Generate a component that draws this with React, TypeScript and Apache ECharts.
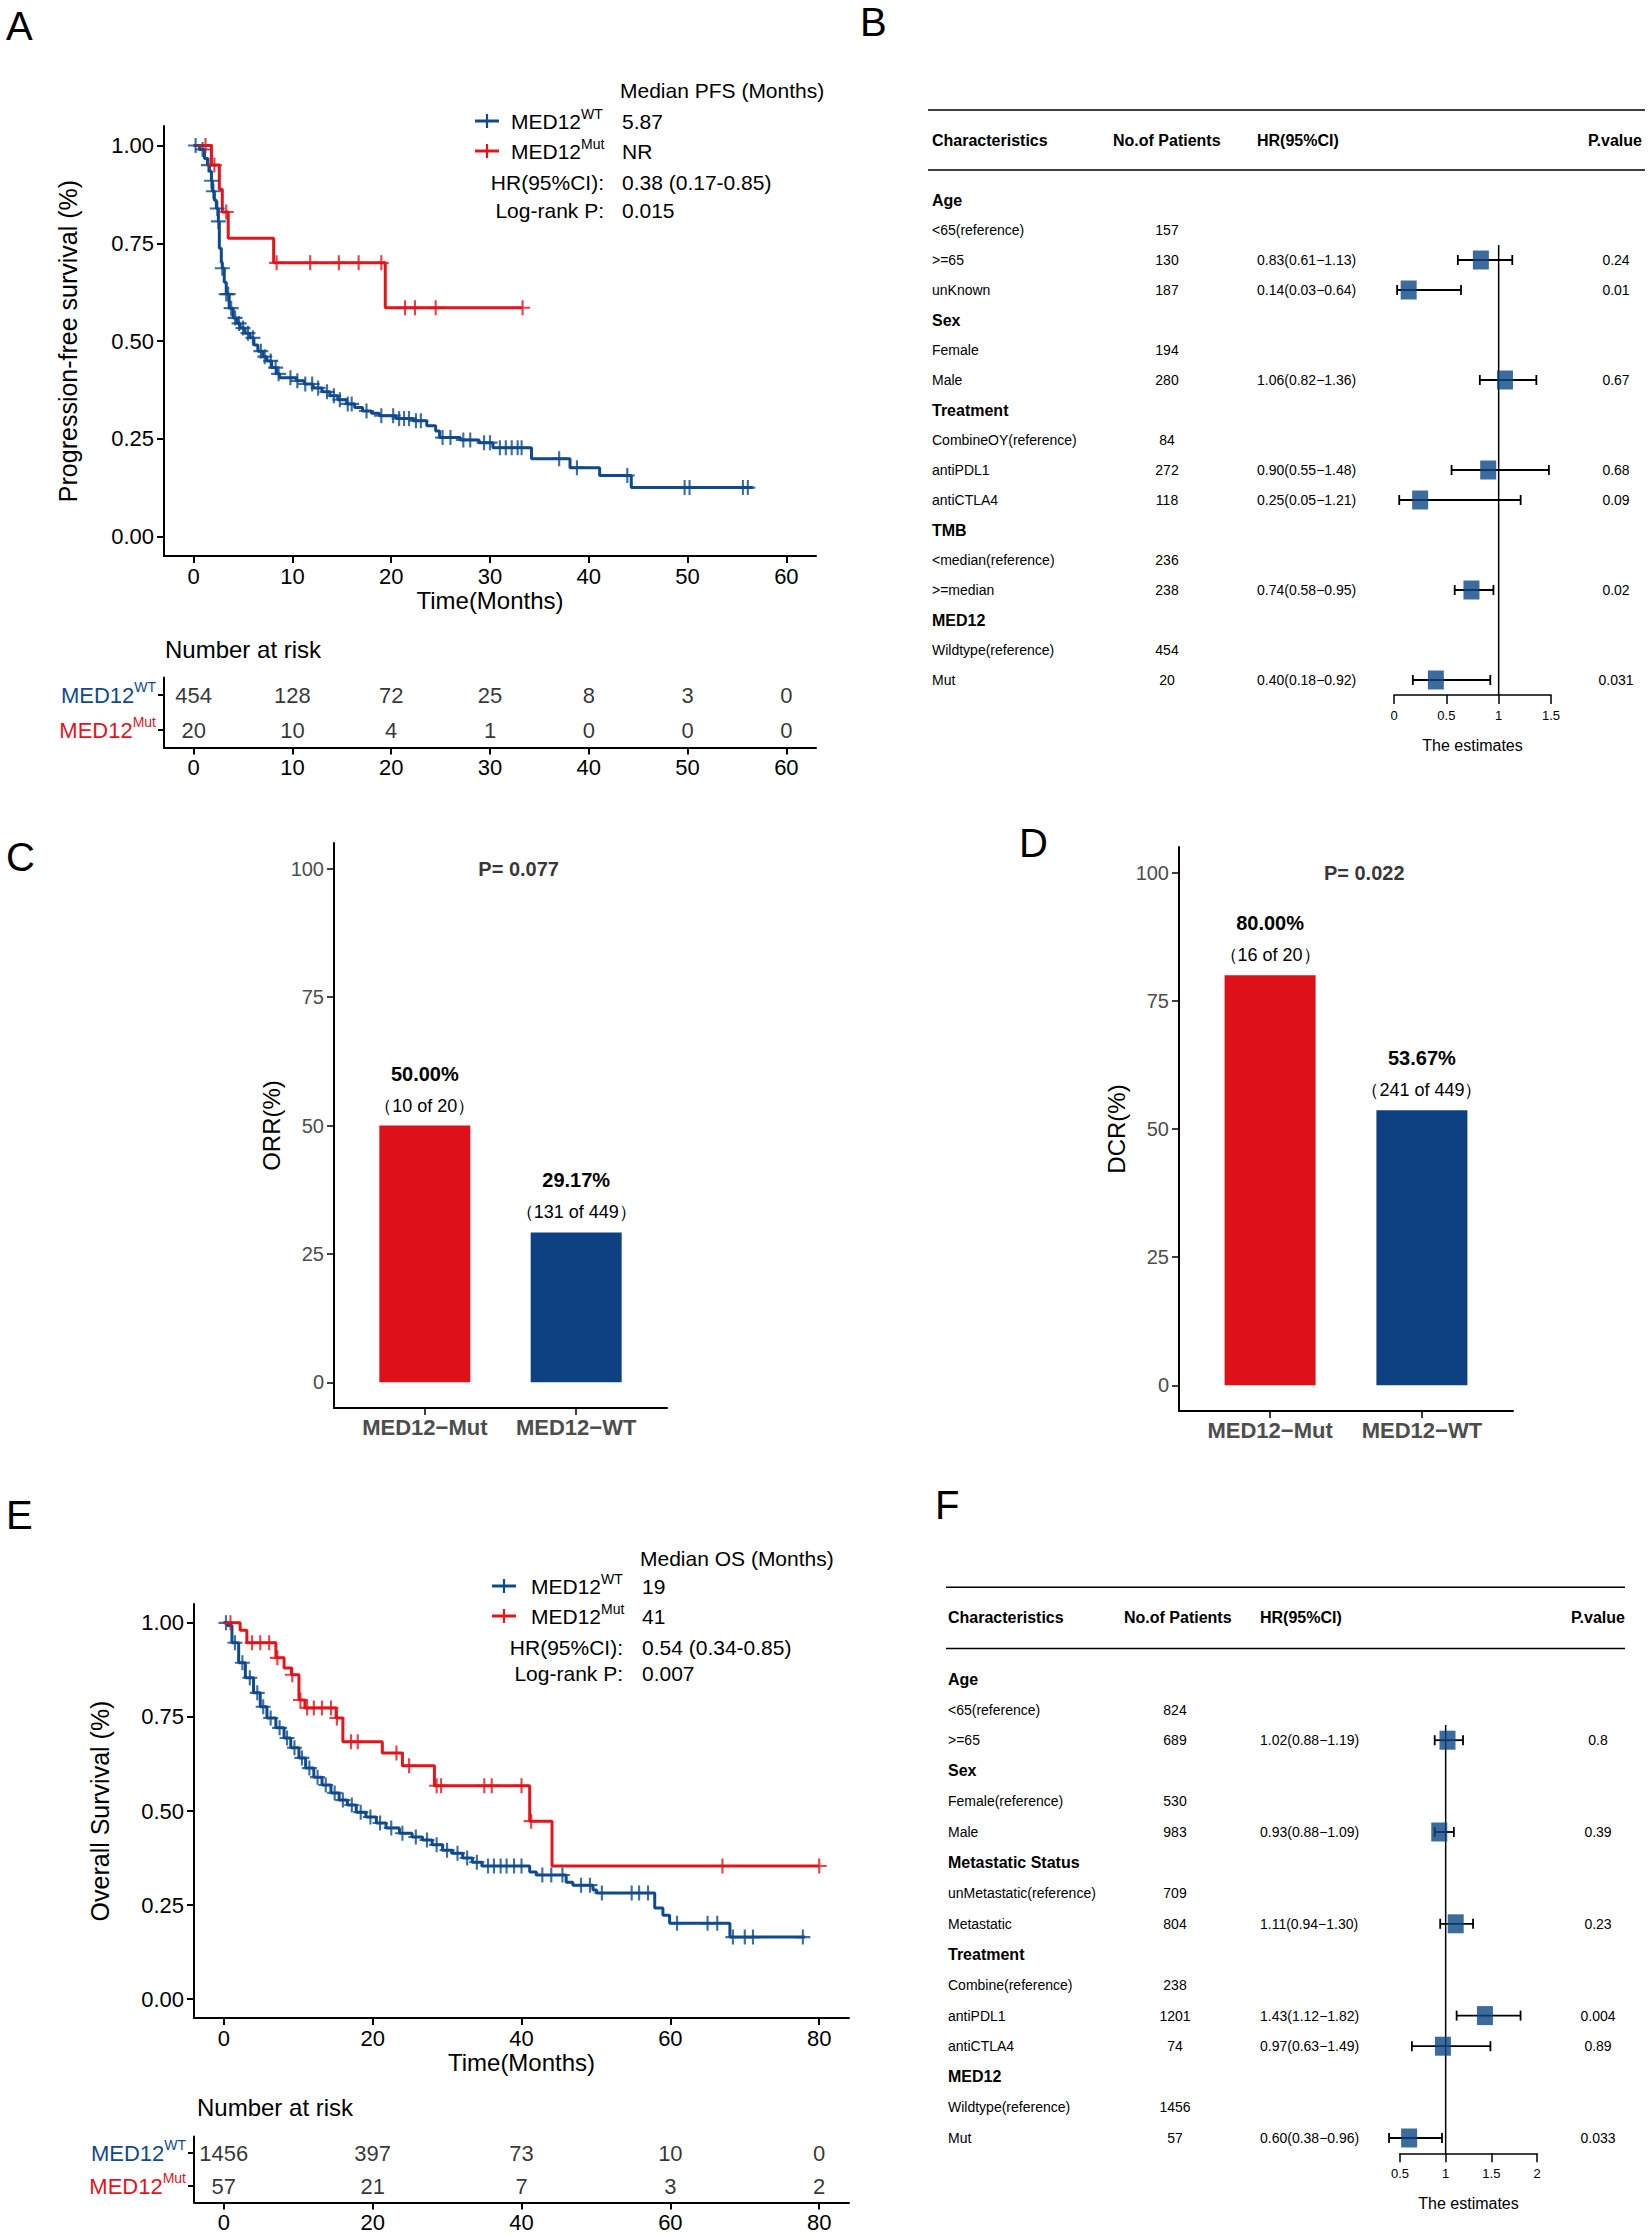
import React, { useEffect, useRef } from "react";
import * as echarts from "echarts";

const FONT = "'Liberation Sans', Arial, Helvetica, sans-serif";
const KM_RED = "#E2141C";
const KM_BLUE = "#0F4A8E";
const BAR_RED = "#DE1019";
const BAR_BLUE = "#0D4181";
const SQ_BLUE = "#0E4686";
const GRAY = "#4D4D4D";

// ---------------- Panel A : PFS ----------------
const pfsTicks = [0, 10, 20, 30, 40, 50, 60];
const survTicks = [0, 0.25, 0.5, 0.75, 1];
const pfsWT = [
  [0, 1], [0.6, 0.99], [1.1, 0.967], [1.4, 0.95], [1.6, 0.934], [1.8, 0.91], [1.9, 0.883], [2.1, 0.86],
  [2.3, 0.839], [2.5, 0.806], [2.6, 0.737], [2.8, 0.7], [2.9, 0.686], [3.1, 0.65], [3.3, 0.62], [3.6, 0.584],
  [4.0, 0.559], [4.4, 0.545], [4.7, 0.533], [5.2, 0.52], [5.7, 0.508], [6.1, 0.49], [6.5, 0.474], [7.0, 0.46],
  [7.4, 0.449], [7.9, 0.432], [8.4, 0.416], [8.7, 0.406], [10.4, 0.398], [11.2, 0.39], [12.1, 0.38], [13.0, 0.37],
  [13.8, 0.36], [14.6, 0.35], [15.5, 0.339], [16.3, 0.33], [17.1, 0.321], [18.0, 0.315], [18.8, 0.309],
  [20.5, 0.302], [22.2, 0.296], [23.6, 0.283], [24.5, 0.27], [24.9, 0.253], [27.0, 0.247], [28.9, 0.24],
  [30.3, 0.227], [34.2, 0.199], [38.1, 0.176], [41.1, 0.156], [44.3, 0.125], [56.6, 0.125],
];
const pfsMut = [
  [0, 1], [1.8, 0.95], [2.6, 0.888], [2.9, 0.83], [3.5, 0.763], [8.1, 0.7], [19.4, 0.585], [33.3, 0.585],
];
const pfsWTCensor = [
  0.2, 0.9, 1.5, 1.8, 2.0, 2.4, 2.5, 2.9, 3.3, 3.5, 3.8, 4.2, 4.6, 5.0, 5.5, 6.0, 6.8, 7.2, 7.8, 8.3, 8.6,
  9.8, 10.5, 11.3, 12.0, 12.6, 13.5, 14.2, 14.8, 15.6, 16.0, 17.5, 19.0, 20.2, 20.8, 21.3, 21.8, 22.5, 23.0,
  25.2, 26.0, 27.3, 28.0, 29.4, 30.0, 31.0, 31.6, 32.2, 32.8, 33.2, 37.0, 38.8, 43.9, 49.7, 50.2, 55.6, 56.1,
];
const pfsMutCensor = [1.2, 2.1, 3.3, 8.4, 11.8, 14.7, 16.7, 19.0, 21.4, 22.4, 24.5, 33.3];
const pfsRiskWT = [454, 128, 72, 25, 8, 3, 0];
const pfsRiskMut = [20, 10, 4, 1, 0, 0, 0];
const pfsMedians = ["5.87", "NR"];
const pfsHR = "0.38 (0.17-0.85)";
const pfsLogRank = "0.015";

// ---------------- Panel B : PFS Cox ----------------
const bCharacteristics = [
  "Age", "<65(reference)", ">=65", "unKnown", "Sex", "Female", "Male", "Treatment", "CombineOY(reference)",
  "antiPDL1", "antiCTLA4", "TMB", "<median(reference)", ">=median", "MED12", "Wildtype(reference)", "Mut",
];
const bIsGroup = [1, 0, 0, 0, 1, 0, 0, 1, 0, 0, 0, 1, 0, 0, 1, 0, 0];
const bPatients = ["", "157", "130", "187", "", "194", "280", "", "84", "272", "118", "", "236", "238", "", "454", "20"];
const bHR = [null, null, 0.83, 0.14, null, null, 1.06, null, null, 0.9, 0.25, null, null, 0.74, null, null, 0.4];
const bLow = [null, null, 0.61, 0.03, null, null, 0.82, null, null, 0.55, 0.05, null, null, 0.58, null, null, 0.18];
const bHigh = [null, null, 1.13, 0.64, null, null, 1.36, null, null, 1.48, 1.21, null, null, 0.95, null, null, 0.92];
const bP = ["", "", "0.24", "0.01", "", "", "0.67", "", "", "0.68", "0.09", "", "", "0.02", "", "", "0.031"];

// ---------------- Panel C / D ----------------
const groups = ["MED12\u2212Mut", "MED12\u2212WT"];
const orrPct = [50.0, 29.17];
const orrN = [10, 131];
const orrTotal = [20, 449];
const orrP = "P= 0.077";
const dcrPct = [80.0, 53.67];
const dcrN = [16, 241];
const dcrTotal = [20, 449];
const dcrP = "P= 0.022";
const pctTicks = [0, 25, 50, 75, 100];

// ---------------- Panel E : OS ----------------
const osTicks = [0, 20, 40, 60, 80];
const osWT = [
  [0, 1], [0.5, 0.993], [1.1, 0.947], [2.0, 0.894], [2.9, 0.854], [4.0, 0.814], [4.9, 0.777], [5.8, 0.747],
  [7.0, 0.721], [8.1, 0.694], [9.0, 0.668], [10.1, 0.641], [11.0, 0.614], [12.1, 0.59], [13.2, 0.569],
  [14.4, 0.548], [15.5, 0.529], [16.6, 0.516], [17.8, 0.497], [19.1, 0.484], [20.5, 0.468], [21.8, 0.455],
  [23.6, 0.441], [25.3, 0.431], [26.7, 0.423], [28.0, 0.41], [29.4, 0.396], [30.7, 0.388], [32.1, 0.375],
  [33.4, 0.364], [34.7, 0.354], [41.1, 0.338], [42.0, 0.33], [46.0, 0.311], [46.9, 0.303], [49.6, 0.29],
  [50.1, 0.282], [57.9, 0.242], [59.0, 0.223], [59.9, 0.202], [68.0, 0.165], [78.1, 0.165],
];
const osMut = [
  [0, 1], [2.2, 0.98], [3.1, 0.947], [7.0, 0.907], [8.1, 0.88], [9.1, 0.862], [10.1, 0.795], [10.9, 0.774],
  [15.1, 0.747], [16.0, 0.684], [21.3, 0.654], [24.0, 0.62], [28.3, 0.567], [41.1, 0.473], [44.1, 0.354], [80, 0.354],
];
const osWTCensor = [
  0.3, 1.5, 2.5, 3.5, 4.5, 5.3, 6.3, 7.5, 8.5, 9.5, 10.5, 11.5, 12.6, 13.7, 14.9, 16.0, 17.2, 18.4, 19.7, 21.0,
  22.5, 24.0, 25.8, 27.3, 28.6, 30.0, 31.4, 32.7, 34.0, 35.5, 36.3, 37.2, 38.0, 39.0, 40.0, 42.8, 44.0, 45.5,
  48.0, 49.2, 50.8, 54.8, 55.8, 57.0, 60.9, 65.0, 66.3, 68.4, 70.0, 71.1, 77.8,
];
const osMutCensor = [
  0.9, 3.8, 4.9, 6.1, 7.2, 9.2, 10.3, 11.2, 12.1, 13.2, 14.4, 15.2, 17.1, 18.0, 23.2, 24.9, 28.6, 29.2, 35.0,
  36.0, 40.0, 41.3, 67.0, 80.0,
];
const osRiskWT = [1456, 397, 73, 10, 0];
const osRiskMut = [57, 21, 7, 3, 2];
const osMedians = ["19", "41"];
const osHR = "0.54 (0.34-0.85)";
const osLogRank = "0.007";

// ---------------- Panel F : OS Cox ----------------
const fCharacteristics = [
  "Age", "<65(reference)", ">=65", "Sex", "Female(reference)", "Male", "Metastatic Status",
  "unMetastatic(reference)", "Metastatic", "Treatment", "Combine(reference)", "antiPDL1", "antiCTLA4",
  "MED12", "Wildtype(reference)", "Mut",
];
const fIsGroup = [1, 0, 0, 1, 0, 0, 1, 0, 0, 1, 0, 0, 0, 1, 0, 0];
const fPatients = ["", "824", "689", "", "530", "983", "", "709", "804", "", "238", "1201", "74", "", "1456", "57"];
const fHR = [null, null, 1.02, null, null, 0.93, null, null, 1.11, null, null, 1.43, 0.97, null, null, 0.6];
const fLow = [null, null, 0.88, null, null, 0.88, null, null, 0.94, null, null, 1.12, 0.63, null, null, 0.38];
const fHigh = [null, null, 1.19, null, null, 1.09, null, null, 1.3, null, null, 1.82, 1.49, null, null, 0.96];
const fP = ["", "", "0.8", "", "", "0.39", "", "", "0.23", "", "", "0.004", "0.89", "", "", "0.033"];

const PLUS = "path://M-1,-7L1,-7L1,-1L7,-1L7,1L1,1L1,7L-1,7L-1,1L-7,1L-7,-1L-1,-1Z";

function survAt(steps: number[][], t: number) {
  let s = steps[0][1];
  for (const [ti, si] of steps) {
    if (ti <= t + 1e-9) s = si;
    else break;
  }
  return s;
}

function kmSeries(steps: number[][], censors: number[], color: string, idx: number) {
  return [
    {
      type: "line", xAxisIndex: idx, yAxisIndex: idx, data: steps, step: "end", showSymbol: false,
      symbol: "none", lineStyle: { color, width: 3 }, itemStyle: { color }, z: 3, silent: true,
    },
    {
      type: "scatter", xAxisIndex: idx, yAxisIndex: idx, data: censors.map((t) => [t, survAt(steps, t)]),
      symbol: PLUS, symbolSize: 15, itemStyle: { color }, z: 4, silent: true,
    },
  ];
}

const axisLineBlack = (w = 2) => ({ show: true, onZero: false, lineStyle: { color: "#000", width: w } });

function kmXAxis(grid: number, min: number, max: number, ticks: number[], name: string | null) {
  return {
    type: "value", gridIndex: grid, min, max,
    axisLine: axisLineBlack(2),
    axisTick: { show: true, customValues: ticks, length: 7, lineStyle: { color: "#000", width: 2 } },
    axisLabel: { customValues: ticks, fontSize: 22, color: "#000", margin: 9, fontFamily: FONT },
    splitLine: { show: false },
    name: name || "", nameLocation: "middle", nameGap: 32,
    nameTextStyle: { fontSize: 24, color: "#000", fontFamily: FONT },
  };
}

function kmYAxis(grid: number, name: string, gap: number) {
  return {
    type: "value", gridIndex: grid, min: -0.05, max: 1.05,
    axisLine: axisLineBlack(2),
    axisTick: { show: true, customValues: survTicks, length: 7, lineStyle: { color: "#000", width: 2 } },
    axisLabel: { customValues: survTicks, formatter: (v: number) => v.toFixed(2), fontSize: 22, color: "#000", margin: 10, fontFamily: FONT },
    splitLine: { show: false },
    name, nameLocation: "middle", nameRotate: 90, nameGap: gap,
    nameTextStyle: { fontSize: 25, color: "#000", fontFamily: FONT },
  };
}

function riskYAxis(grid: number) {
  return {
    type: "category", gridIndex: grid, data: ["Mut", "WT"],
    axisLine: axisLineBlack(2),
    axisTick: { show: true, alignWithLabel: true, length: 6, lineStyle: { color: "#000", width: 2 } },
    axisLabel: {
      margin: 8,
      formatter: (v: string) => (v === "WT" ? "{b|MED12}{bs|WT}" : "{r|MED12}{rs|Mut}"),
      rich: {
        b: { color: KM_BLUE, fontSize: 22, fontFamily: FONT, lineHeight: 30 },
        bs: { color: KM_BLUE, fontSize: 14, fontFamily: FONT, lineHeight: 14, verticalAlign: "top" },
        r: { color: KM_RED, fontSize: 22, fontFamily: FONT, lineHeight: 30 },
        rs: { color: KM_RED, fontSize: 14, fontFamily: FONT, lineHeight: 14, verticalAlign: "top" },
      },
    },
  };
}

function riskSeries(idx: number, ticks: number[], wt: number[], mut: number[]) {
  const data = [
    ...ticks.map((t, i) => [t, 1, wt[i]]),
    ...ticks.map((t, i) => [t, 0, mut[i]]),
  ];
  return {
    type: "scatter", xAxisIndex: idx, yAxisIndex: idx, data, symbolSize: 1,
    itemStyle: { color: "rgba(0,0,0,0)" }, silent: true,
    label: { show: true, position: "inside", formatter: (p: any) => String(p.value[2]), fontSize: 22, color: "#000", fontFamily: FONT },
  };
}

function barXAxis(grid: number) {
  return {
    type: "value", gridIndex: grid, min: 0.4, max: 2.6,
    axisLine: axisLineBlack(2),
    axisTick: { show: true, customValues: [1, 2], length: 7, lineStyle: { color: "#000", width: 1.5 } },
    axisLabel: {
      customValues: [1, 2], formatter: (v: number) => groups[Math.round(v) - 1],
      fontSize: 22, fontWeight: "bold", color: GRAY, margin: 8, fontFamily: FONT,
    },
    splitLine: { show: false },
  };
}

function barYAxis(grid: number, name: string) {
  return {
    type: "value", gridIndex: grid, min: -5, max: 105,
    axisLine: axisLineBlack(2),
    axisTick: { show: true, customValues: pctTicks, length: 7, lineStyle: { color: "#000", width: 1.5 } },
    axisLabel: { customValues: pctTicks, fontSize: 20, color: GRAY, margin: 10, fontFamily: FONT },
    splitLine: { show: false },
    name, nameLocation: "middle", nameRotate: 90, nameGap: 51,
    nameTextStyle: { fontSize: 24, color: "#000", fontFamily: FONT },
  };
}

function barSeries(idx: number, pct: number[], n: number[], tot: number[], p: string) {
  return [
    {
      type: "bar", xAxisIndex: idx, yAxisIndex: idx, barWidth: 91, silent: true,
      data: pct.map((v, i) => ({ value: [i + 1, v], itemStyle: { color: i === 0 ? BAR_RED : BAR_BLUE } })),
      label: {
        show: true, position: "top", distance: 4,
        formatter: (q: any) => `{a|${pct[q.dataIndex].toFixed(2)}%}\n{b|\uFF08${n[q.dataIndex]} of ${tot[q.dataIndex]}\uFF09}`,
        rich: {
          a: { fontSize: 20, fontWeight: "bold", color: "#000", lineHeight: 32, fontFamily: FONT },
          b: { fontSize: 18, color: "#000", lineHeight: 32, fontFamily: FONT },
        },
      },
    },
    {
      type: "scatter", xAxisIndex: idx, yAxisIndex: idx, data: [[1.62, 100]], symbolSize: 1, silent: true,
      itemStyle: { color: "rgba(0,0,0,0)" },
      label: { show: true, position: "inside", formatter: p, fontSize: 20, fontWeight: "bold", color: "#000", fontFamily: FONT },
    },
  ];
}

function forestXAxis(grid: number, min: number, max: number) {
  return {
    type: "value", gridIndex: grid, min, max, interval: 0.5,
    axisLine: axisLineBlack(1.5),
    axisTick: { show: true, length: 9, lineStyle: { color: "#000", width: 1.5 } },
    axisLabel: { fontSize: 13, color: "#000", margin: 14, fontFamily: FONT, formatter: (v: number) => String(v) },
    splitLine: { show: false },
    name: "The estimates", nameLocation: "middle", nameGap: 42,
    nameTextStyle: { fontSize: 16, color: "#000", fontFamily: FONT },
  };
}

function forestYAxis(grid: number, rows: number) {
  return { type: "value", gridIndex: grid, min: -0.5, max: rows - 0.5, inverse: true, show: false };
}

function forestSeries(idx: number, hr: any[], lo: any[], hi: any[], refFrom: number, refTo: number) {
  const pts: number[][] = [];
  const bars: number[][] = [];
  hr.forEach((h, i) => {
    if (h !== null) {
      pts.push([h, i]);
      bars.push([i, lo[i], hi[i]]);
    }
  });
  return [
    {
      type: "line", xAxisIndex: idx, yAxisIndex: idx, data: [[1, refFrom], [1, refTo]], showSymbol: false,
      symbol: "none", lineStyle: { color: "#000", width: 1.5 }, silent: true, z: 1,
    },
    {
      type: "custom", xAxisIndex: idx, yAxisIndex: idx, data: bars, silent: true, z: 2,
      encode: { x: [1, 2], y: 0 },
      renderItem: (params: any, api: any) => {
        const i = api.value(0);
        const a = api.coord([api.value(1), i]);
        const b = api.coord([api.value(2), i]);
        const st = { stroke: "#000", lineWidth: 1.8 };
        return {
          type: "group",
          children: [
            { type: "line", shape: { x1: a[0], y1: a[1], x2: b[0], y2: b[1] }, style: st },
            { type: "line", shape: { x1: a[0], y1: a[1] - 5, x2: a[0], y2: a[1] + 5 }, style: st },
            { type: "line", shape: { x1: b[0], y1: b[1] - 5, x2: b[0], y2: b[1] + 5 }, style: st },
          ],
        };
      },
    },
    {
      type: "scatter", xAxisIndex: idx, yAxisIndex: idx, data: pts, symbol: "rect", symbolSize: [16, 19],
      itemStyle: { color: SQ_BLUE }, silent: true, z: 3,
    },
  ];
}

function txt(x: number, y: number, text: string, o: any = {}) {
  return {
    type: "text", x, y, silent: true,
    style: {
      text, fontFamily: FONT, fontSize: o.size || 21, fontWeight: o.bold ? "bold" : "normal",
      fill: o.color || "#000", align: o.align || "left", verticalAlign: "middle",
    },
  };
}

function kmLegend(o: any) {
  const els: any[] = [];
  els.push(txt(o.valX - 2, o.ys[0], o.title));
  const rows: [string, string][] = [[KM_BLUE, "WT"], [KM_RED, "Mut"]];
  rows.forEach(([c, sup], k) => {
    const y = o.ys[k + 1];
    const cx = (o.m0 + o.m1) / 2;
    els.push({ type: "line", silent: true, shape: { x1: o.m0, y1: y, x2: o.m1, y2: y }, style: { stroke: c, lineWidth: 3 } });
    els.push({ type: "line", silent: true, shape: { x1: cx, y1: y - 7, x2: cx, y2: y + 7 }, style: { stroke: c, lineWidth: 2.2 } });
    els.push({
      type: "text", x: o.textX, y, silent: true,
      style: {
        text: `{m|MED12}{s|${sup}}`, align: "left", verticalAlign: "middle",
        rich: {
          m: { fontSize: 21, fontFamily: FONT, fill: "#000", lineHeight: 28 },
          s: { fontSize: 14, fontFamily: FONT, fill: "#000", lineHeight: 14, verticalAlign: "top" },
        },
      },
    });
    els.push(txt(o.valX, y, o.values[k]));
  });
  els.push(txt(o.rightX, o.ys[3], "HR(95%CI):", { align: "right" }));
  els.push(txt(o.valX, o.ys[3], o.hr));
  els.push(txt(o.rightX, o.ys[4], "Log-rank P:", { align: "right" }));
  els.push(txt(o.valX, o.ys[4], o.lr));
  return els;
}

function forestTable(chart: any, yIdx: number, cols: any, names: string[], isGroup: number[], pats: string[], hr: any[], lo: any[], hi: any[], pv: string[]) {
  const Y = (i: number) => chart.convertToPixel({ yAxisIndex: yIdx }, i);
  const els: any[] = [];
  [-3, -1].forEach((i) => {
    els.push({ type: "line", silent: true, shape: { x1: cols.x0, y1: Y(i), x2: cols.x1, y2: Y(i) }, style: { stroke: "#000", lineWidth: 1.5 } });
  });
  const hy = Y(-2);
  els.push(txt(cols.name, hy, "Characteristics", { size: 16, bold: true }));
  els.push(txt(cols.patHead, hy, "No.of Patients", { size: 16, bold: true }));
  els.push(txt(cols.hr, hy, "HR(95%CI)", { size: 16, bold: true }));
  els.push(txt(cols.pHead, hy, "P.value", { size: 16, bold: true }));
  names.forEach((nm, i) => {
    const y = Y(i);
    els.push(txt(cols.name, y, nm, isGroup[i] ? { size: 16, bold: true } : { size: 14 }));
    if (pats[i]) els.push(txt(cols.pat, y, pats[i], { size: 14, align: "center" }));
    if (hr[i] !== null) {
      els.push(txt(cols.hr, y, `${hr[i].toFixed(2)}(${lo[i].toFixed(2)}\u2212${hi[i].toFixed(2)})`, { size: 14 }));
    }
    if (pv[i]) els.push(txt(cols.p, y, pv[i], { size: 14, align: "center" }));
  });
  return els;
}

export default function App() {
  const ref = useRef<HTMLDivElement>(null);
  useEffect(() => {
    if (!ref.current) return;
    const chart = echarts.init(ref.current, null, { renderer: "svg" });
    const option: any = {
      animation: false,
      backgroundColor: "#fff",
      textStyle: { fontFamily: FONT },
      grid: [
        { left: 164, top: 126, width: 652, height: 430 },
        { left: 164, top: 677.5, width: 652, height: 70 },
        { left: 1394, top: 185, width: 157, height: 510 },
        { left: 334, top: 843, width: 333, height: 565 },
        { left: 1179, top: 847, width: 334, height: 564 },
        { left: 194, top: 1604, width: 655, height: 414 },
        { left: 194, top: 2136.5, width: 655, height: 66 },
        { left: 1400, top: 1663.7, width: 137, height: 489.6 },
      ],
      xAxis: [
        kmXAxis(0, -3, 63, pfsTicks, "Time(Months)"),
        kmXAxis(1, -3, 63, pfsTicks, null),
        forestXAxis(2, 0, 1.5),
        barXAxis(3),
        barXAxis(4),
        kmXAxis(5, -4, 84, osTicks, "Time(Months)"),
        kmXAxis(6, -4, 84, osTicks, null),
        forestXAxis(7, 0.5, 2),
      ],
      yAxis: [
        kmYAxis(0, "Progression-free survival (%)", 84),
        riskYAxis(1),
        forestYAxis(2, bCharacteristics.length),
        barYAxis(3, "ORR(%)"),
        barYAxis(4, "DCR(%)"),
        kmYAxis(5, "Overall Survival (%)", 82),
        riskYAxis(6),
        forestYAxis(7, fCharacteristics.length),
      ],
      series: [
        ...kmSeries(pfsWT, pfsWTCensor, KM_BLUE, 0),
        ...kmSeries(pfsMut, pfsMutCensor, KM_RED, 0),
        riskSeries(1, pfsTicks, pfsRiskWT, pfsRiskMut),
        ...forestSeries(2, bHR, bLow, bHigh, 1.5, 16.5),
        ...barSeries(3, orrPct, orrN, orrTotal, orrP),
        ...barSeries(4, dcrPct, dcrN, dcrTotal, dcrP),
        ...kmSeries(osWT, osWTCensor, KM_BLUE, 5),
        ...kmSeries(osMut, osMutCensor, KM_RED, 5),
        riskSeries(6, osTicks, osRiskWT, osRiskMut),
        ...forestSeries(7, fHR, fLow, fHigh, 1.5, 15.5),
      ],
    };
    chart.setOption(option);

    const graphics: any[] = [
      txt(6, 26, "A", { size: 40 }),
      txt(860, 22, "B", { size: 40 }),
      txt(6, 857, "C", { size: 40 }),
      txt(1019, 843, "D", { size: 40 }),
      txt(6, 1515, "E", { size: 40 }),
      txt(935, 1505, "F", { size: 40 }),
      txt(165, 649, "Number at risk", { size: 24 }),
      txt(197, 2107, "Number at risk", { size: 24 }),
      ...kmLegend({
        title: "Median PFS (Months)", ys: [90, 121, 151, 182, 210], m0: 475, m1: 499, textX: 511,
        valX: 622, rightX: 604, values: pfsMedians, hr: pfsHR, lr: pfsLogRank,
      }),
      ...kmLegend({
        title: "Median OS (Months)", ys: [1558, 1586, 1616, 1647, 1673], m0: 492, m1: 516, textX: 531,
        valX: 642, rightX: 623, values: osMedians, hr: osHR, lr: osLogRank,
      }),
      ...forestTable(chart, 2, { x0: 928, x1: 1645, name: 932, patHead: 1113, pat: 1167, hr: 1257, pHead: 1588, p: 1616 },
        bCharacteristics, bIsGroup, bPatients, bHR, bLow, bHigh, bP),
      ...forestTable(chart, 7, { x0: 946, x1: 1625, name: 948, patHead: 1124, pat: 1175, hr: 1260, pHead: 1571, p: 1598 },
        fCharacteristics, fIsGroup, fPatients, fHR, fLow, fHigh, fP),
    ];
    chart.setOption({ graphic: graphics });
    return () => chart.dispose();
  }, []);
  return (
    <div
      ref={ref}
      style={{ position: "absolute", left: 0, top: 0, width: 1652, height: 2237, background: "#fff" }}
    />
  );
}
